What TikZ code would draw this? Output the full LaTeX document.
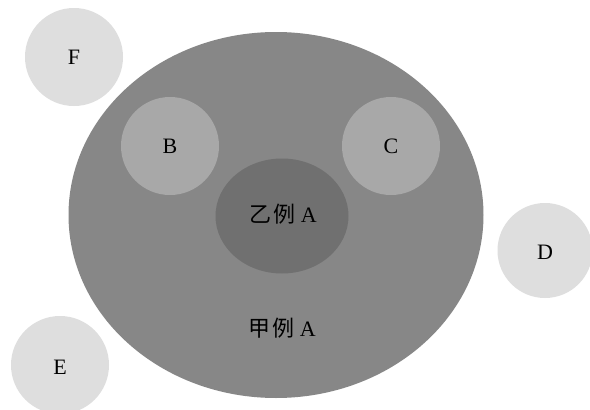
\documentclass[tikz,border=0pt]{standalone}
\usepackage{fontspec}
\setmainfont{Liberation Serif}
\newfontfamily\cjk{Noto Sans CJK SC}
\begin{document}
\begin{tikzpicture}[x=1pt,y=-1pt,
  every node/.style={font=\fontsize{22}{26}\selectfont},
  outerc/.style={fill=black!13},
  midc/.style={fill=black!34},
  bigc/.style={fill=black!47},
  innerc/.style={fill=black!56}]
\useasboundingbox (0,0) rectangle (590,410);
\fill[white] (0,0) rectangle (590,410);
\fill[outerc] (74,57) circle (49);
\node (F) at (74,57) {F};
\fill[bigc] (276,215) ellipse (207.5 and 183);
\node (Aouter) at (282,328) {{\cjk 甲\hspace{2pt}例} A};
\fill[midc] (170,146) circle (49);
\node (B) at (170,146) {B};
\fill[midc] (391,146) circle (49);
\node (C) at (391,146) {C};
\fill[innerc] (282,216) ellipse (66.5 and 57.5);
\node (Ainner) at (283,214) {{\cjk 乙\hspace{2pt}例} A};
\fill[outerc] (545,250.5) circle (47.5);
\node (D) at (545,252) {D};
\fill[outerc] (60,365) circle (49);
\node (E) at (60,367) {E};
\end{tikzpicture}
\end{document}
